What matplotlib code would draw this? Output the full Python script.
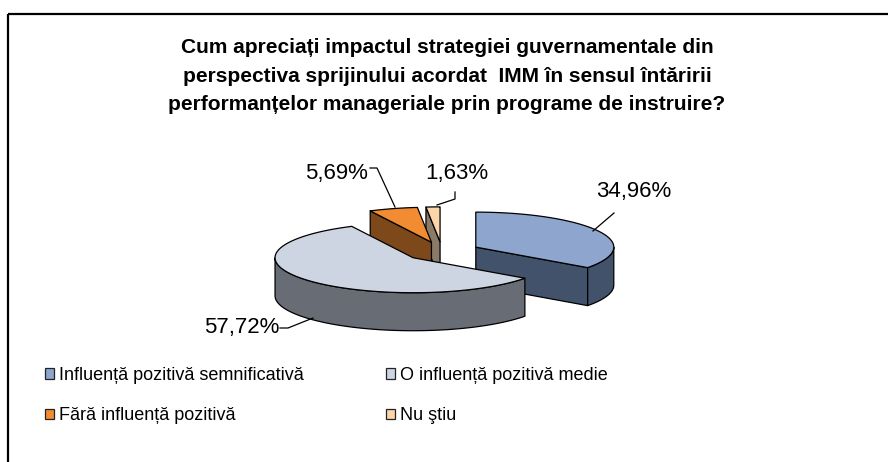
import numpy as np
import matplotlib
matplotlib.use("Agg")
import matplotlib.pyplot as plt
from matplotlib.patches import Polygon, Rectangle, Patch

plt.rcParams['font.family'] = ['Liberation Sans', 'DejaVu Sans']

# ---------------- data ----------------
categories = ["Influență pozitivă semnificativă", "O influență pozitivă medie",
              "Fără influență pozitivă", "Nu ştiu"]
values = [34.96, 57.72, 5.69, 1.63]
title = ("Cum apreciați impactul strategiei guvernamentale din\n"
         "perspectiva sprijinului acordat  IMM în sensul întăririi\n"
         "performanțelor manageriale prin programe de instruire?")
top_colors = ["#8EA5CE", "#CDD5E2", "#F28C32", "#FCD5AA"]
side_colors = ["#42526B", "#686C74", "#7D481A", "#8A7A68"]

# ---------------- layout (pixel-like coordinates) ----------------
W, H = 888, 462
fig = plt.figure(figsize=(W / 100, H / 100), dpi=100)
ax = fig.add_axes([0, 0, 1, 1])
ax.set_xlim(0, W)
ax.set_ylim(H, 0)
ax.axis('off')

# outer frame
ax.add_patch(Rectangle((8, 14), 1000, 1000, fill=False, lw=1.6, ec='black'))

ax.text(447, 76, title, ha='center', va='center', fontsize=15,
        fontweight='bold', linespacing=1.62)

# pie geometry
C0 = np.array([442.0, 251.5])
A, B, DEPTH, EXPL = 138.0, 35.0, 38.0, 0.275

fr = np.array(values) / sum(values)
ends = np.cumsum(fr) * 2 * np.pi
starts = ends - fr * 2 * np.pi


def rim(c, th):
    th = np.asarray(th)
    return np.column_stack([c[0] + A * np.sin(th), c[1] - B * np.cos(th)])


slices = []
for i in range(len(values)):
    t1, t2 = starts[i], ends[i]
    mid = (t1 + t2) / 2
    c = C0 + EXPL * np.array([A * np.sin(mid), -B * np.cos(mid)])
    slices.append((np.cos(mid), i, t1, t2, c))

slices.sort(key=lambda s: -s[0])
down = np.array([0, DEPTH])
z = 2
for _, i, t1, t2, c in slices:
    ec = dict(ec='black', lw=0.9, joinstyle='round')
    # radial faces
    for th, vis in ((t1, np.sin(t1) < -1e-6), (t2, np.sin(t2) > 1e-6)):
        if vis:
            r = rim(c, [th])[0]
            ax.add_patch(Polygon([c, r, r + down, c + down], closed=True,
                                 fc=side_colors[i], zorder=z, **ec))
            z += 1
    # curved outer wall (front half)
    w1, w2 = max(t1, np.pi / 2), min(t2, 3 * np.pi / 2)
    if w2 > w1:
        arc = rim(c, np.linspace(w1, w2, 80))
        ax.add_patch(Polygon(np.vstack([arc, arc[::-1] + down]), closed=True,
                             fc=side_colors[i], zorder=z, **ec))
        z += 1
    # top face
    arc = rim(c, np.linspace(t1, t2, 120))
    ax.add_patch(Polygon(np.vstack([c, arc]), closed=True,
                         fc=top_colors[i], zorder=z, **ec))
    z += 1

# data labels with leader lines
lab_pos = [(634, 191), (242, 328), (336, 174), (457, 174)]
leaders = [[(593, 231), (614, 213)],
           [(280, 328), (288, 328), (313, 318)],
           [(370, 168), (377, 168), (395, 207)],
           [(455, 192), (455, 199), (437, 205)]]
for i, v in enumerate(values):
    s = f"{v:.2f}".replace('.', ',') + '%'
    ax.text(*lab_pos[i], s, ha='center', va='center', fontsize=16, zorder=50)
    xs, ys = zip(*leaders[i])
    ax.plot(xs, ys, color='black', lw=0.9, zorder=49)

# legend
handles = [Patch(fc=top_colors[i], ec='#222222', lw=0.9) for i in range(4)]
order = [0, 2, 1, 3]
ax.legend([handles[k] for k in order], [categories[k] for k in order],
          ncol=2, loc='upper left', bbox_to_anchor=(45, 367),
          bbox_transform=ax.transData, frameon=False, fontsize=13,
          handlelength=0.5, handleheight=0.5, handletextpad=0.25,
          columnspacing=4.6, labelspacing=1.3, borderpad=0, borderaxespad=0)

fig.savefig("out.png", dpi=100)
